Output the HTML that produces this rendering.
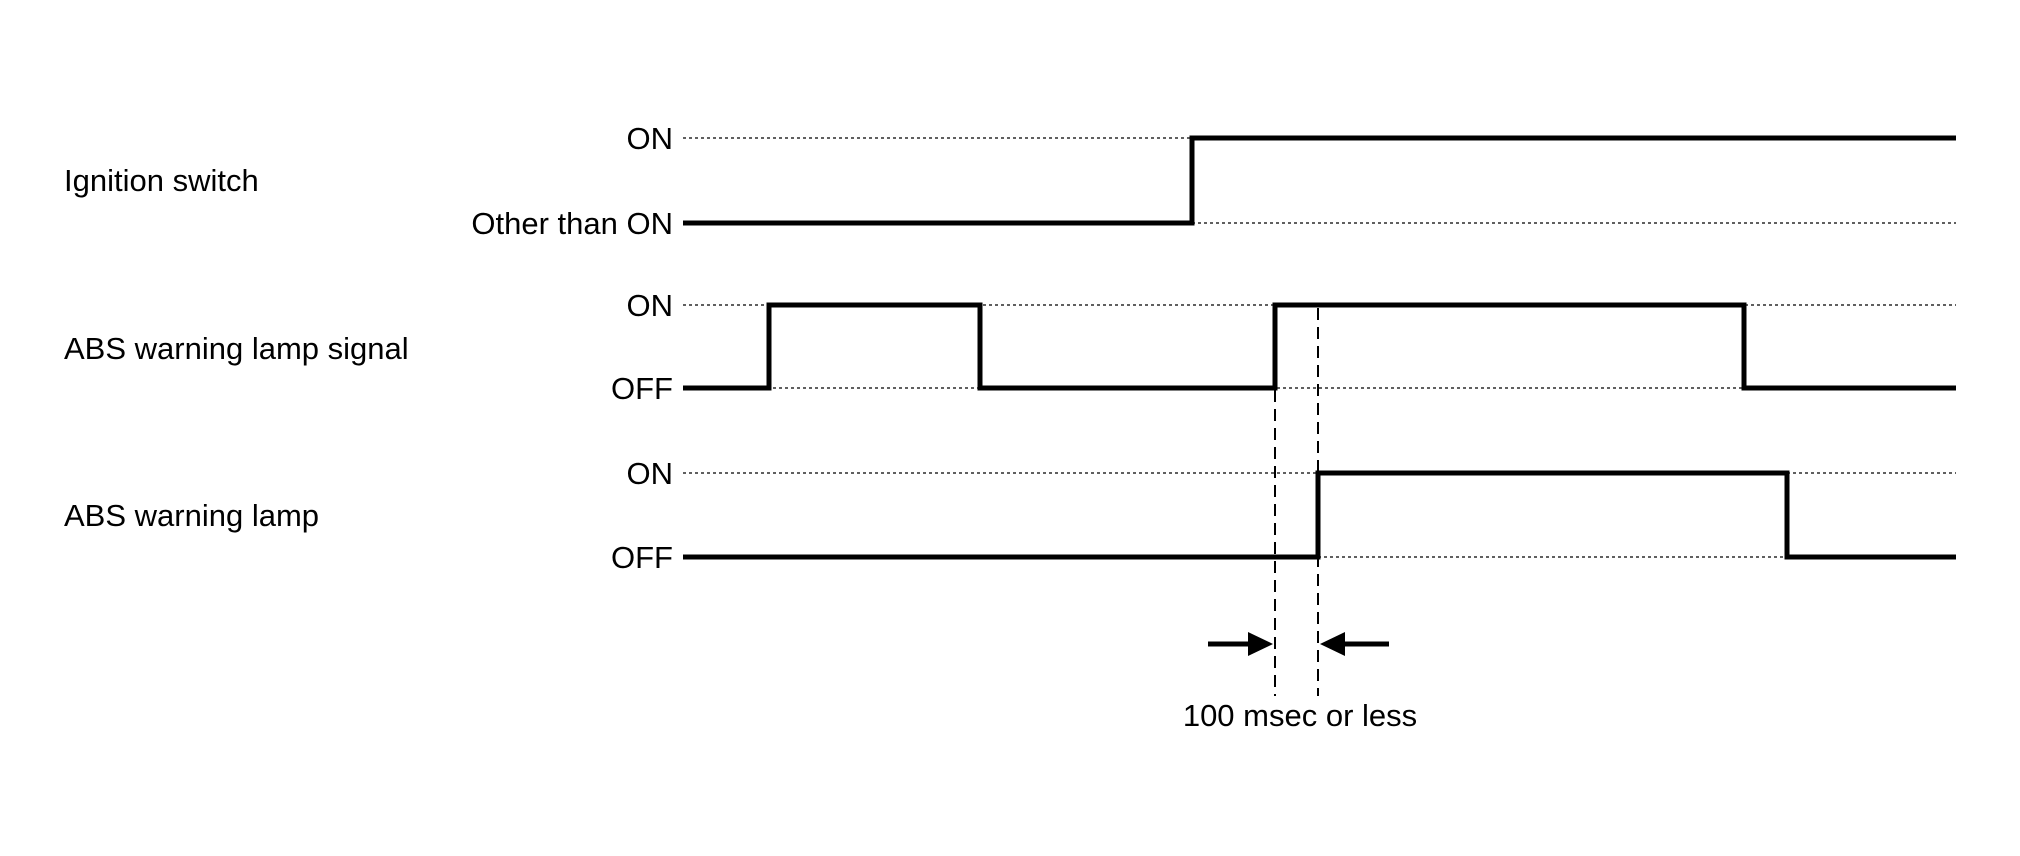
<!DOCTYPE html>
<html><head><style>
html,body{margin:0;padding:0;background:#fff;}
svg text{font-family:"Liberation Sans",Arial,sans-serif;font-size:31px;fill:#000;}
</style></head><body>
<svg width="2020" height="851" viewBox="0 0 2020 851" xmlns="http://www.w3.org/2000/svg">
<g stroke="#000" stroke-width="1.2" stroke-dasharray="3,3" fill="none">
<line x1="683" y1="138" x2="1192" y2="138"/>
<line x1="1192" y1="223" x2="1956" y2="223"/>
<line x1="683" y1="305" x2="1956" y2="305"/>
<line x1="683" y1="388" x2="1956" y2="388"/>
<line x1="683" y1="473" x2="1956" y2="473"/>
<line x1="1318" y1="557" x2="1956" y2="557"/>
</g>
<g stroke="#000" stroke-width="2" stroke-dasharray="12,7" fill="none">
<line x1="1275" y1="390" x2="1275" y2="696"/>
<line x1="1318" y1="308" x2="1318" y2="696"/>
</g>
<g stroke="#000" stroke-width="5" fill="none" stroke-linejoin="miter">
<polyline points="683,223 1192,223 1192,138 1956,138"/>
<polyline points="683,388 769,388 769,305 980,305 980,388 1275,388 1275,305 1744,305 1744,388 1956,388"/>
<polyline points="683,557 1318,557 1318,473 1787,473 1787,557 1956,557"/>
<line x1="1208" y1="644" x2="1250" y2="644"/>
<line x1="1343" y1="644" x2="1389" y2="644"/>
</g>
<polygon points="1248,632 1273,644 1248,656" fill="#000"/>
<polygon points="1345,632 1320,644 1345,656" fill="#000"/>
<text x="64" y="191">Ignition switch</text>
<text x="64" y="359">ABS warning lamp signal</text>
<text x="64" y="526">ABS warning lamp</text>
<g text-anchor="end">
<text x="673" y="149">ON</text>
<text x="673" y="234">Other than ON</text>
<text x="673" y="316">ON</text>
<text x="673" y="399">OFF</text>
<text x="673" y="484">ON</text>
<text x="673" y="568">OFF</text>
</g>
<text x="1300" y="726" text-anchor="middle">100 msec or less</text>
</svg>
</body></html>
